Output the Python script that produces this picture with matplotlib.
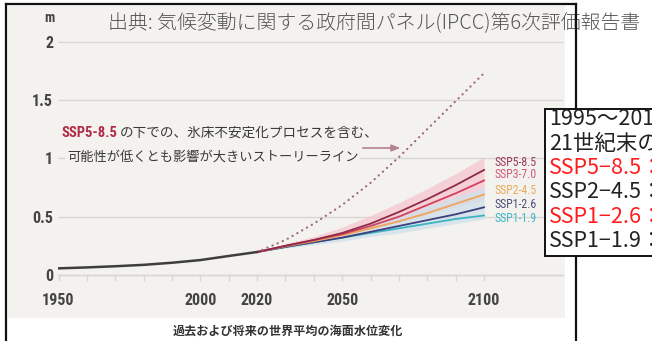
import matplotlib
matplotlib.use("Agg")
import matplotlib.pyplot as plt
from matplotlib.patches import Rectangle
from matplotlib.lines import Line2D

# ---------------- data ----------------
hist_years = [1950, 1960, 1970, 1980, 1990, 2000, 2010, 2020]
hist_level = [0.057, 0.065, 0.075, 0.087, 0.105, 0.128, 0.163, 0.197]

proj_years = [2020, 2030, 2040, 2050, 2060, 2070, 2080, 2090, 2100]
scenarios = ["SSP5-8.5", "SSP3-7.0", "SSP2-4.5", "SSP1-2.6", "SSP1-1.9"]
ssp585 = [0.197, 0.25, 0.30, 0.36, 0.44, 0.54, 0.65, 0.77, 0.90]
ssp370 = [0.197, 0.25, 0.30, 0.35, 0.42, 0.50, 0.60, 0.70, 0.81]
ssp245 = [0.197, 0.245, 0.29, 0.34, 0.40, 0.46, 0.53, 0.61, 0.69]
ssp126 = [0.197, 0.24, 0.28, 0.32, 0.37, 0.42, 0.47, 0.52, 0.58]
ssp119 = [0.197, 0.24, 0.28, 0.32, 0.36, 0.40, 0.44, 0.48, 0.51]

ssp585_low = [0.197, 0.24, 0.28, 0.33, 0.39, 0.45, 0.52, 0.58, 0.65]
ssp585_high = [0.197, 0.27, 0.33, 0.41, 0.51, 0.62, 0.74, 0.87, 1.01]
ssp126_low = [0.197, 0.23, 0.26, 0.29, 0.33, 0.36, 0.40, 0.44, 0.48]
ssp126_high = [0.197, 0.26, 0.31, 0.37, 0.44, 0.51, 0.59, 0.67, 0.75]

storyline = [0.197, 0.30, 0.44, 0.60, 0.79, 1.01, 1.25, 1.49, 1.73]

x_tick_years = [1950, 2000, 2020, 2050, 2100]
decade_ticks = [1960, 1970, 1980, 1990, 2010, 2030, 2040, 2060, 2070, 2080, 2090]
y_ticks = [0, 0.5, 1, 1.5, 2]
y_tick_labels = ["0", "0.5", "1", "1.5", "2"]

box_lines = ["1995～201", "21世紀末の", "SSP5−8.5：", "SSP2−4.5：", "SSP1−2.6：", "SSP1−1.9："]
box_colors = ["#222222", "#222222", "#ff1c1c", "#222222", "#ff1c1c", "#222222"]

# ---------------- styling ----------------
W, H, DPI = 652, 341, 100
CJK = ["Noto Sans CJK JP", "DejaVu Sans"]
NARROW = ["Roboto Condensed", "Liberation Sans Narrow", "DejaVu Sans"]
BEIGE = "#f4f2ef"
GRID = "#d9d7d3"

line_colors = ["#8e2b48", "#d4405f", "#f0a45c", "#3d3f7e", "#3bb4c4"]
label_colors = ["#9b3a58", "#cf5a7a", "#e8aa5e", "#4a4f78", "#3eb6c6"]
series = [ssp585, ssp370, ssp245, ssp126, ssp119]


def fx(px):
    return px / W


def fy(py):
    return 1 - py / H


fig = plt.figure(figsize=(W / DPI, H / DPI), dpi=DPI)
fig.patch.set_facecolor("white")
renderer = fig.canvas.get_renderer()


def fit_width(txt, width_px):
    """Scale a text's font size so that it spans the given pixel width."""
    w = txt.get_window_extent(renderer).width
    txt.set_fontsize(txt.get_fontsize() * width_px / w)


# panel background
fig.add_artist(Rectangle((fx(8), fy(318)), fx(565) - fx(8), fy(6) - fy(318),
                         transform=fig.transFigure, facecolor=BEIGE,
                         edgecolor="none", zorder=-2))

# axes placed in pixel terms
ax_l, ax_r, ax_t, ax_b = 58, 563, 30, 286
ax = fig.add_axes([fx(ax_l), fy(ax_b), (ax_r - ax_l) / W, (ax_b - ax_t) / H])
ax.set_facecolor("none")
px_per_year = 2.837
px_per_m = 116.7
y0_px = 275
x0 = 1950 - (58.5 - ax_l) / px_per_year
ax.set_xlim(x0, x0 + (ax_r - ax_l) / px_per_year)
ax.set_ylim(-(ax_b - y0_px) / px_per_m, (y0_px - ax_t) / px_per_m)

for s in ["top", "right", "left"]:
    ax.spines[s].set_visible(False)
ax.spines["bottom"].set_position(("data", 0))
ax.spines["bottom"].set_color(GRID)
ax.spines["bottom"].set_linewidth(1.0)

ax.set_yticks(y_ticks)
ax.set_yticklabels(y_tick_labels)
ax.yaxis.grid(True, color=GRID, linewidth=1.0)
ax.set_axisbelow(True)
ax.tick_params(axis="y", length=0, pad=3.5, labelsize=11.5, labelcolor="#444444")
ax.set_xticks(x_tick_years)
ax.set_xticklabels([str(y) for y in x_tick_years])
ax.set_xticks(decade_ticks, minor=True)
ax.tick_params(axis="x", which="both", direction="out", length=4.3, width=1.0,
               color=GRID, pad=9.0, labelsize=11.5, labelcolor="#444444")
for lab in ax.get_xticklabels() + ax.get_yticklabels():
    lab.set_family(NARROW)
    lab.set_stretch("condensed")
    lab.set_fontweight("bold")

# likely ranges
ax.fill_between(proj_years, ssp585_low, ssp585_high, color="#f6c6cf", alpha=0.75,
                linewidth=0, zorder=2)
ax.fill_between(proj_years, ssp126_low, ssp126_high, color="#cfe0ea", alpha=0.75,
                linewidth=0, zorder=2)

# scenario medians
for vals, c in zip(series[::-1], line_colors[::-1]):
    ax.plot(proj_years, vals, color=c, linewidth=1.3, zorder=3)

# observed
ax.plot(hist_years, hist_level, color="#3e3e3e", linewidth=1.8, zorder=4)

# low-likelihood high-impact storyline
ax.plot(proj_years, storyline, color="#9c6a7a", linewidth=1.6,
        linestyle=(0, (0.1, 2.4)), dash_capstyle="round", zorder=3)

# scenario labels beside the 2100 values
label_px = [162, 175, 190, 204, 218]
for name, c, py in zip(scenarios, label_colors, label_px):
    t = ax.text(2103.6, (y0_px - py) / px_per_m, name, color=c, fontsize=8,
                family=NARROW, stretch="condensed", va="center", ha="left", zorder=5)
    fit_width(t, 42)

# storyline annotation
t = fig.text(fx(61), fy(133), "SSP5-8.5", color="#b02c44", fontsize=10,
             family=NARROW, stretch="condensed", fontweight="bold",
             va="center", ha="left")
fit_width(t, 56)
fig.text(fx(120), fy(133), "の下での、氷床不安定化プロセスを含む、", color="#3a3a3a",
         fontsize=9.8, family=CJK, va="center", ha="left")
fig.text(fx(67), fy(157), "可能性が低くとも影響が大きいストーリーライン", color="#3a3a3a",
         fontsize=9.5, family=CJK, style="italic", va="center", ha="left",
         bbox=dict(boxstyle="square,pad=0.15", facecolor=BEIGE, edgecolor="none"))
fig.add_artist(Line2D([fx(363), fx(398)], [fy(148), fy(148)], color="#b58291",
                      linewidth=1.2, transform=fig.transFigure))
ax.annotate("", xy=(fx(403), fy(148)), xytext=(fx(392), fy(148)),
            xycoords=fig.transFigure, textcoords=fig.transFigure,
            arrowprops=dict(arrowstyle="-|>,head_length=0.5,head_width=0.2",
                            color="#b58291", linewidth=1.2))

# unit and titles
fig.text(fx(49), fy(18), "m", color="#444444", fontsize=10, family=NARROW,
         fontweight="bold", ha="center", va="center")
fig.text(fx(108), fy(23), "出典: 気候変動に関する政府間パネル(IPCC)第6次評価報告書",
         color="#555555", fontsize=14.35, family=CJK, fontweight="light",
         ha="left", va="center")
fig.text(fx(288), fy(331), "過去および将来の世界平均の海面水位変化", color="#333333",
         fontsize=8.7, family=CJK, fontweight="bold", ha="center", va="center")

# outer frame
frame_kw = dict(color="#111111", linewidth=1.6, transform=fig.transFigure, zorder=6)
fig.add_artist(Line2D([fx(6), fx(6)], [fy(4), fy(341)], **frame_kw))
fig.add_artist(Line2D([fx(6), fx(576)], [fy(4), fy(4)], **frame_kw))
fig.add_artist(Line2D([fx(576), fx(576)], [fy(4), fy(341)], **frame_kw))

# summary box
fig.add_artist(Rectangle((fx(545), fy(256)), fx(700) - fx(545), fy(109) - fy(256),
                         transform=fig.transFigure, facecolor="white",
                         edgecolor="#111111", linewidth=1.4, zorder=7))
for i, (txt, c) in enumerate(zip(box_lines, box_colors)):
    fig.text(fx(549), fy(119 + 24.4 * i), txt, color=c, fontsize=15.5, family=CJK,
             ha="left", va="center", zorder=8)

fig.savefig("out.png", dpi=DPI)
